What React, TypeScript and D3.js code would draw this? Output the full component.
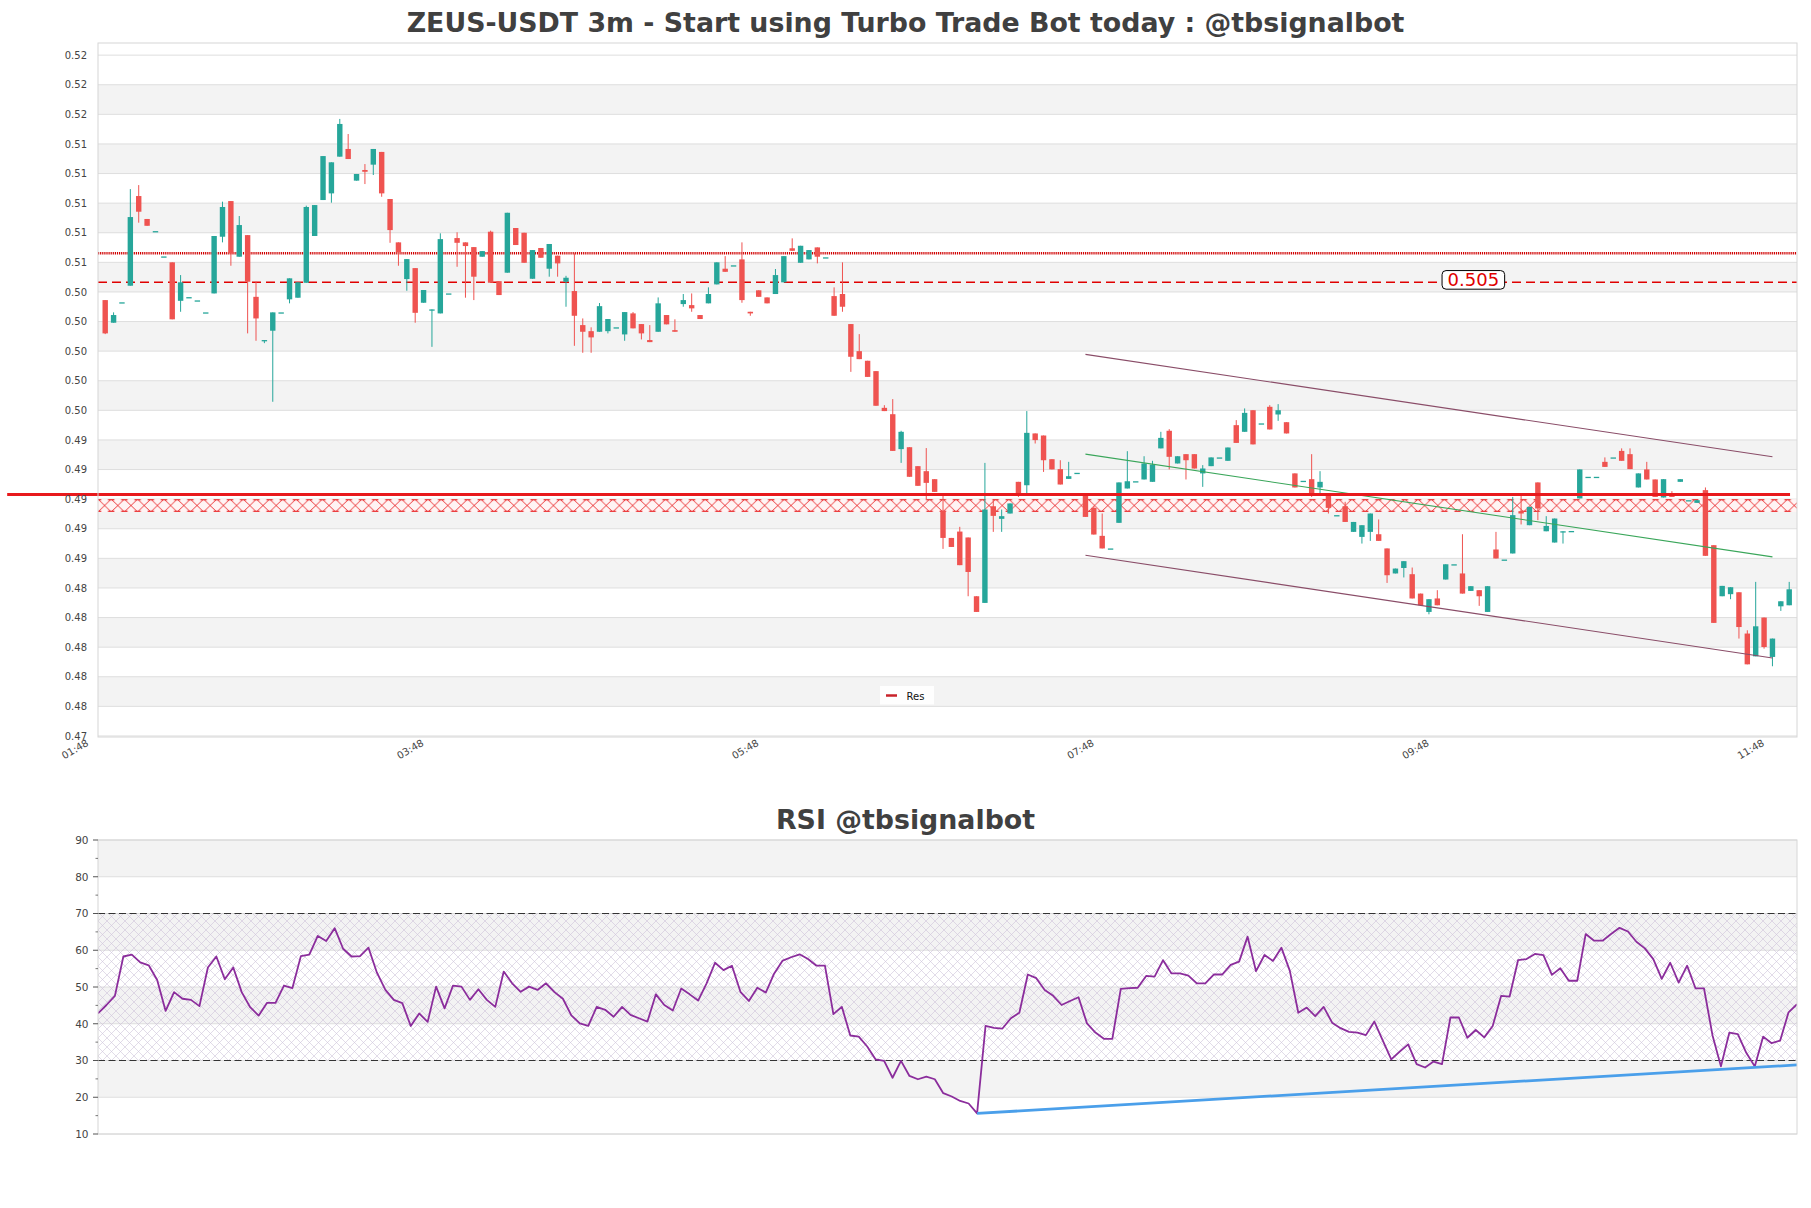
import React from 'react';
import * as d3 from 'd3';

// ---------------- DATA ----------------
const TITLE = 'ZEUS-USDT 3m - Start using Turbo Trade Bot today : @tbsignalbot';
const RSI_TITLE = 'RSI @tbsignalbot';

const opens = [
0.50379,0.50226,0.50364,0.50476,0.51082,0.50927,0.50845,0.50674,0.50634,0.50374,
0.50399,0.50377,0.50296,0.50424,0.50807,0.51048,0.50672,0.50818,0.50401,0.50109,
0.50172,0.50296,0.50384,0.50395,0.50496,0.50812,0.51055,0.51100,0.51348,0.51400,
0.51186,0.51258,0.51294,0.51380,0.51062,0.50769,0.50521,0.50595,0.50361,0.50316,
0.50289,0.50424,0.50798,0.50769,0.50737,0.50672,0.50841,0.50507,0.50564,0.50866,
0.50834,0.50523,0.50731,0.50591,0.50679,0.50503,0.50440,0.50210,0.50169,0.50165,
0.50169,0.50195,0.50147,0.50289,0.50217,0.50109,0.50165,0.50278,0.50176,0.50352,
0.50345,0.50278,0.50357,0.50485,0.50591,0.50614,0.50654,0.50300,0.50445,0.50397,
0.50420,0.50499,0.50729,0.50631,0.50654,0.50735,0.50668,0.50406,0.50420,0.50217,
0.50034,0.49969,0.49899,0.49651,0.49608,0.49372,0.49385,0.49257,0.49223,0.49169,
0.48955,0.48772,0.48815,0.48775,0.48378,0.48333,0.48986,0.48901,0.48937,0.49151,
0.49128,0.49478,0.49464,0.49304,0.49237,0.49171,0.49212,0.49061,0.48975,0.48786,
0.48701,0.48874,0.49106,0.49155,0.49167,0.49151,0.49377,0.49496,0.49275,0.49338,
0.49338,0.49208,0.49257,0.49316,0.49293,0.49534,0.49489,0.49635,0.49546,0.49658,
0.49606,0.49554,0.49208,0.49158,0.49169,0.49113,0.49072,0.48926,0.48986,0.48813,
0.48779,0.48813,0.48797,0.48701,0.48532,0.48569,0.48527,0.48396,0.48272,0.48363,
0.48491,0.48594,0.48532,0.48414,0.48419,0.48272,0.48694,0.48626,0.48667,0.48953,
0.48858,0.49147,0.48817,0.48741,0.48817,0.48819,0.49039,0.49185,0.49185,0.49286,
0.49316,0.49360,0.49338,0.49113,0.49235,0.49167,0.49045,0.49072,0.49151,0.49027,
0.49009,0.49095,0.48723,0.48378,0.48392,0.48405,0.48126,0.47972,0.48234,0.47968,
0.48310,0.48317];

const highs = [
0.50379,0.50296,0.50364,0.51129,0.51156,0.50927,0.50845,0.50674,0.50634,0.50548,
0.50399,0.50377,0.50296,0.50812,0.51044,0.51048,0.50947,0.50818,0.50503,0.50109,
0.50296,0.50296,0.50526,0.50499,0.51017,0.51021,0.51352,0.51310,0.51603,0.51501,
0.51231,0.51298,0.51400,0.51380,0.51062,0.50769,0.50656,0.50595,0.50447,0.50316,
0.50830,0.50424,0.50837,0.50769,0.50737,0.50710,0.50848,0.50507,0.50969,0.50866,
0.50834,0.50717,0.50731,0.50758,0.50679,0.50543,0.50695,0.50255,0.50195,0.50359,
0.50251,0.50195,0.50298,0.50298,0.50217,0.50210,0.50397,0.50278,0.50249,0.50420,
0.50424,0.50278,0.50465,0.50634,0.50676,0.50614,0.50769,0.50300,0.50445,0.50397,
0.50589,0.50676,0.50796,0.50746,0.50717,0.50735,0.50668,0.50465,0.50634,0.50217,
0.50149,0.49969,0.49899,0.49669,0.49710,0.49496,0.49385,0.49257,0.49379,0.49169,
0.49059,0.48772,0.48847,0.48775,0.48378,0.49279,0.49027,0.48964,0.49005,0.49151,
0.49629,0.49478,0.49464,0.49304,0.49297,0.49286,0.49212,0.49061,0.48986,0.48937,
0.48701,0.49147,0.49358,0.49155,0.49324,0.49293,0.49489,0.49507,0.49324,0.49338,
0.49338,0.49264,0.49316,0.49316,0.49383,0.49568,0.49647,0.49635,0.49546,0.49669,
0.49676,0.49554,0.49208,0.49158,0.49338,0.49223,0.49072,0.48926,0.49016,0.48880,
0.48858,0.48937,0.48897,0.48701,0.48565,0.48615,0.48572,0.48396,0.48358,0.48419,
0.48594,0.48594,0.48797,0.48446,0.48419,0.48446,0.48813,0.48626,0.49049,0.49061,
0.48982,0.49147,0.48919,0.48903,0.48817,0.48819,0.49235,0.49185,0.49185,0.49316,
0.49316,0.49377,0.49377,0.49208,0.49286,0.49167,0.49169,0.49088,0.49169,0.49027,
0.49027,0.49113,0.48723,0.48448,0.48439,0.48405,0.48148,0.48475,0.48234,0.48092,
0.48344,0.48475];

const lows = [
0.50149,0.50226,0.50364,0.50476,0.50902,0.50881,0.50845,0.50674,0.50249,0.50300,
0.50399,0.50377,0.50296,0.50424,0.50769,0.50611,0.50672,0.50154,0.50104,0.50088,
0.49692,0.50296,0.50357,0.50395,0.50496,0.50812,0.51055,0.51037,0.51348,0.51332,
0.51186,0.51163,0.51224,0.51077,0.50766,0.50611,0.50442,0.50226,0.50361,0.50063,
0.50289,0.50424,0.50604,0.50395,0.50379,0.50672,0.50496,0.50413,0.50564,0.50751,
0.50631,0.50523,0.50665,0.50537,0.50537,0.50334,0.50070,0.50023,0.50023,0.50165,
0.50154,0.50195,0.50104,0.50188,0.50113,0.50095,0.50165,0.50215,0.50165,0.50334,
0.50300,0.50251,0.50357,0.50485,0.50570,0.50614,0.50361,0.50273,0.50401,0.50357,
0.50420,0.50499,0.50712,0.50631,0.50654,0.50627,0.50668,0.50273,0.50300,0.49894,
0.49980,0.49860,0.49665,0.49629,0.49360,0.49279,0.49185,0.49124,0.49027,0.49083,
0.48698,0.48711,0.48588,0.48378,0.48272,0.48333,0.48813,0.48813,0.48937,0.49049,
0.49066,0.49410,0.49218,0.49235,0.49133,0.49171,0.49212,0.48914,0.48795,0.48701,
0.48701,0.48874,0.49106,0.49155,0.49167,0.49151,0.49377,0.49235,0.49275,0.49167,
0.49241,0.49117,0.49257,0.49316,0.49293,0.49414,0.49489,0.49404,0.49546,0.49505,
0.49563,0.49478,0.49113,0.49158,0.49049,0.49061,0.48937,0.48926,0.48880,0.48813,
0.48734,0.48752,0.48752,0.48468,0.48532,0.48505,0.48363,0.48317,0.48256,0.48317,
0.48491,0.48594,0.48396,0.48414,0.48313,0.48272,0.48633,0.48626,0.48667,0.48863,
0.48858,0.48892,0.48817,0.48741,0.48734,0.48819,0.49039,0.49185,0.49185,0.49252,
0.49316,0.49293,0.49237,0.49113,0.49167,0.49049,0.49045,0.49049,0.49151,0.49027,
0.49009,0.48651,0.48198,0.48378,0.48358,0.48092,0.47918,0.47972,0.48024,0.47905,
0.48279,0.48317];

const closes = [
0.50154,0.50278,0.50364,0.50940,0.50976,0.50881,0.50845,0.50674,0.50249,0.50499,
0.50399,0.50377,0.50296,0.50812,0.51008,0.50695,0.50886,0.50503,0.50255,0.50109,
0.50296,0.50296,0.50526,0.50499,0.51008,0.51021,0.51352,0.51310,0.51569,0.51332,
0.51231,0.51246,0.51400,0.51100,0.50852,0.50702,0.50656,0.50293,0.50447,0.50316,
0.50791,0.50424,0.50766,0.50744,0.50537,0.50710,0.50496,0.50413,0.50969,0.50751,
0.50631,0.50717,0.50665,0.50758,0.50627,0.50530,0.50273,0.50165,0.50127,0.50338,
0.50251,0.50195,0.50298,0.50188,0.50154,0.50095,0.50357,0.50215,0.50165,0.50379,
0.50323,0.50251,0.50420,0.50634,0.50570,0.50614,0.50379,0.50289,0.50401,0.50357,
0.50548,0.50676,0.50712,0.50746,0.50717,0.50672,0.50668,0.50273,0.50334,0.49996,
0.49980,0.49860,0.49665,0.49629,0.49360,0.49489,0.49185,0.49124,0.49144,0.49083,
0.48772,0.48711,0.48588,0.48542,0.48272,0.48964,0.48921,0.48919,0.49005,0.49061,
0.49482,0.49433,0.49297,0.49235,0.49133,0.49189,0.49212,0.48914,0.48795,0.48701,
0.48701,0.49147,0.49155,0.49155,0.49275,0.49268,0.49448,0.49320,0.49324,0.49297,
0.49241,0.49241,0.49316,0.49316,0.49383,0.49414,0.49617,0.49404,0.49546,0.49505,
0.49635,0.49478,0.49113,0.49158,0.49061,0.49151,0.48975,0.48926,0.48880,0.48880,
0.48858,0.48937,0.48752,0.48520,0.48565,0.48615,0.48363,0.48317,0.48358,0.48317,
0.48594,0.48594,0.48396,0.48446,0.48378,0.48446,0.48633,0.48626,0.48926,0.48937,
0.48982,0.48971,0.48853,0.48903,0.48817,0.48819,0.49235,0.49185,0.49185,0.49252,
0.49316,0.49293,0.49237,0.49208,0.49167,0.49049,0.49169,0.49049,0.49169,0.49027,
0.49027,0.48651,0.48198,0.48448,0.48439,0.48170,0.47918,0.48175,0.48035,0.48092,
0.48344,0.48425];

const rsiValues = [
42.8,45.1,47.6,58.3,58.8,56.7,55.9,51.9,43.5,48.6,
46.8,46.5,44.8,55.3,58.3,52.1,55.3,48.6,44.5,42.2,
45.7,45.7,50.4,49.7,58.4,58.8,63.9,62.5,66.0,60.4,
58.3,58.4,60.7,53.9,49.2,46.5,45.6,39.4,42.8,40.5,
50.1,44.2,50.4,50.1,46.5,49.4,46.5,44.6,54.2,51.0,
48.7,50.1,49.2,51.0,48.6,46.8,42.3,40.1,39.4,44.6,
43.8,41.9,44.6,42.4,41.5,40.6,48.0,45.1,43.6,49.6,
48.0,46.3,51.0,56.6,54.6,55.8,48.7,46.2,49.8,48.5,
53.7,57.2,58.1,58.9,57.6,55.8,55.8,42.6,44.6,36.8,
36.5,33.8,30.3,29.9,25.3,29.9,25.8,24.9,25.6,24.9,
21.1,20.2,19.0,18.3,15.6,39.4,38.9,38.7,41.5,43.0,
53.4,52.4,49.2,47.6,45.1,46.2,47.2,40.1,37.6,35.9,
35.9,49.5,49.7,49.8,53.0,52.8,57.3,53.7,53.7,53.1,
51.0,51.0,53.4,53.4,56.0,56.9,63.7,54.3,58.7,57.1,
60.7,54.4,43.0,44.4,42.1,44.6,40.3,38.8,37.8,37.6,
36.9,40.6,35.4,30.3,32.4,34.4,29.0,28.1,29.7,29.0,
41.7,41.7,36.2,38.3,36.3,39.4,47.6,47.4,57.3,57.6,
59.0,58.7,53.3,55.1,51.7,51.7,64.4,62.6,62.6,64.4,
66.1,65.1,62.3,60.5,57.6,52.2,56.6,51.2,55.8,49.6,
49.6,36.9,28.4,37.6,37.2,32.1,28.4,36.5,34.7,35.4,
43.1,45.3];

// y ticks (price) and labels
const priceTickStart = 0.47434;
const priceTickStep = 0.002;
const priceTickCount = 24;
const priceDomain = [0.47427, 0.52116];

// x ticks: candle index and label
const xTickIndex = [-1, 39, 79, 119, 159, 199];
const xTickLabels = ['01:48', '03:48', '05:48', '07:48', '09:48', '11:48'];

// levels
const resLevel = 0.49066;
const resLineFrom = -11.7;
const resLineTo = 201.1;
const zoneTop = 0.49034;
const zoneBottom = 0.48948;
const dottedLevel = 0.50695;
const dashedLevel = 0.505;
const dashedLabel = '0.505';
const dashedLabelIndex = 163.3;

// channel lines [i0, p0, i1, p1]
const channelUpper = [117, 0.50012, 199, 0.4932];
const channelMid = [117, 0.49338, 199, 0.48644];
const channelLower = [117, 0.48655, 199, 0.47961];

// RSI
const rsiTicks = [10, 20, 30, 40, 50, 60, 70, 80, 90];
const rsiMinorTicks = [15, 25, 35, 45, 55, 65, 75, 85];
const rsiBandStarts = [20, 40, 60, 80];
const rsiUpper = 70;
const rsiLower = 30;
const rsiTrend = [104, 15.6, 201, 28.8];

// ---------------- COMPONENT ----------------
const FONT = 'DejaVu Sans, Verdana, sans-serif';
const TEAL = '#26a69a';
const RED = '#ef5350';

export default function App() {
  const L = 98, R = 1797, T = 43, B = 737;
  const RT = 840, RB = 1134;

  const x = d3.scaleLinear().domain([-0.86, 201.93]).range([L, R]);
  const y = d3.scaleLinear().domain(priceDomain).range([B, T]);
  const xr = d3.scaleLinear().domain([0, rsiValues.length - 1]).range([L, R]);
  const yr = d3.scaleLinear().domain([10, 90]).range([RB, RT]);

  const priceTicks = d3.range(priceTickCount).map(i => priceTickStart + i * priceTickStep);
  const fmt = d3.format('.2f');

  const rsiLine = d3.line<number>().x((d, i) => xr(i)).y(d => yr(d))(rsiValues) || '';

  const zoneY0 = y(zoneTop);
  const zoneY1 = y(zoneBottom);
  const zoneH = zoneY1 - zoneY0;
  const cellW = 13.2;

  const bodyW = 5.4;

  const chLine = (c: number[]) => (
    { x1: x(c[0]), y1: y(c[1]), x2: x(c[2]), y2: y(c[3]) }
  );

  const badgeX = x(dashedLabelIndex);
  const badgeY = y(dashedLevel);

  return (
    <svg width={1811} height={1208} style={{ position: 'absolute', left: 0, top: 0, background: '#fff' }}
      fontFamily={FONT}>
      <defs>
        <pattern id="zoneHatch" patternUnits="userSpaceOnUse" x={L} y={zoneY0} width={cellW} height={zoneH}>
          <path d={`M0,0L${cellW},${zoneH}M${cellW},0L0,${zoneH}`} stroke="#e8282a" strokeWidth={0.9} fill="none" />
          <path d={`M0,0.6H3.2M${cellW - 3.2},0.6H${cellW}M0,${zoneH - 0.6}H3.2M${cellW - 3.2},${zoneH - 0.6}H${cellW}`}
            stroke="#e8282a" strokeWidth={1.1} fill="none" />
        </pattern>
        <pattern id="rsiHatch" patternUnits="userSpaceOnUse" x={L} y={RT} width={9} height={9}>
          <path d="M0,0L9,9M9,0L0,9" stroke="#c9bdd6" strokeWidth={0.6} fill="none" />
        </pattern>
        <clipPath id="mainClip"><rect x={L} y={T} width={R - L} height={B - T} /></clipPath>
        <clipPath id="rsiClip"><rect x={L} y={RT} width={R - L} height={RB - RT} /></clipPath>
      </defs>

      <rect x={0} y={0} width={1811} height={1208} fill="#fff" />

      {/* ---------- MAIN TITLE ---------- */}
      <text x={905.5} y={32} textAnchor="middle" fontSize={26.8} fontWeight="bold" fill="#404040">{TITLE}</text>

      {/* ---------- MAIN PLOT BACKGROUND ---------- */}
      <g>
        {priceTicks.slice(0, -1).map((t, i) => i % 2 === 1 ? (
          <rect key={'b' + i} x={L} y={y(priceTicks[i + 1])} width={R - L} height={y(t) - y(priceTicks[i + 1])} fill="#f3f3f3" />
        ) : null)}
        {priceTicks.map((t, i) => (
          <line key={'g' + i} x1={L} x2={R} y1={y(t)} y2={y(t)} stroke="#dedede" strokeWidth={1} />
        ))}
      </g>

      {/* zone */}
      <rect x={L} y={zoneY0} width={R - L} height={zoneH} fill="#fff4f4" />
      <rect x={L} y={zoneY0} width={R - L} height={zoneH} fill="url(#zoneHatch)" />

      {/* dotted & dashed levels */}
      <line x1={L} x2={R} y1={y(dottedLevel)} y2={y(dottedLevel)} stroke="#d00000" strokeWidth={2.6} strokeDasharray="1.2 0.9" />
      <line x1={L} x2={R} y1={y(dashedLevel)} y2={y(dashedLevel)} stroke="#e00000" strokeWidth={1.4} strokeDasharray="9 5" />

      {/* candles */}
      <g clipPath="url(#mainClip)">
        {opens.map((o, i) => {
          const c = closes[i];
          const hi = Math.max(highs[i], o, c);
          const lo = Math.min(lows[i], o, c);
          const col = c >= o ? TEAL : RED;
          const cx = x(i);
          const yTop = y(Math.max(o, c));
          const h = Math.max(1.3, y(Math.min(o, c)) - yTop);
          return (
            <g key={'c' + i}>
              <line x1={cx} x2={cx} y1={y(hi)} y2={y(lo)} stroke={col} strokeWidth={1} />
              <rect x={cx - bodyW / 2} y={yTop} width={bodyW} height={h} fill={col} />
            </g>
          );
        })}
      </g>

      {/* channel lines */}
      <line {...chLine(channelUpper)} stroke="#8a4d68" strokeWidth={1.1} />
      <line {...chLine(channelLower)} stroke="#8a4d68" strokeWidth={1.1} />
      <line {...chLine(channelMid)} stroke="#3aa65a" strokeWidth={1.1} />

      {/* Res line */}
      <line x1={x(resLineFrom)} x2={x(resLineTo)} y1={y(resLevel)} y2={y(resLevel)} stroke="#e8191c" strokeWidth={3} />

      {/* badge */}
      <g>
        <rect x={badgeX - 31.3} y={badgeY - 11.6} width={62.6} height={18.6} rx={4} ry={4} fill="#fff" stroke="#000" strokeWidth={1} />
        <text x={badgeX} y={badgeY + 3.7} textAnchor="middle" fontSize={18} fill="#e00000">{dashedLabel}</text>
      </g>

      {/* legend */}
      <g>
        <rect x={880} y={686} width={54} height={18.5} fill="#fff" opacity={0.9} />
        <line x1={886} x2={897} y1={695.5} y2={695.5} stroke="#c8222a" strokeWidth={2.5} />
        <text x={906.5} y={699.5} fontSize={10} fill="#111">Res</text>
      </g>

      {/* frame */}
      <rect x={L} y={T} width={R - L} height={B - T} fill="none" stroke="#d6d6d6" strokeWidth={1} />

      {/* y axis labels */}
      {priceTicks.map((t, i) => (
        <text key={'yl' + i} x={87} y={y(t) + 3.6} textAnchor="end" fontSize={10} fill="#444">{fmt(t)}</text>
      ))}

      {/* x axis labels */}
      {xTickIndex.map((xi, k) => (
        <text key={'xl' + k} transform={`translate(${x(xi) - 7.5},${745}) rotate(-30)`} textAnchor="end" fontSize={10} fill="#444">
          {xTickLabels[k]}
        </text>
      ))}

      {/* ---------- RSI ---------- */}
      <text x={905.5} y={829} textAnchor="middle" fontSize={26.8} fontWeight="bold" fill="#404040">{RSI_TITLE}</text>

      {rsiBandStarts.map(t => (
        <rect key={'rb' + t} x={L} y={yr(t + 10)} width={R - L} height={yr(t) - yr(t + 10)} fill="#f3f3f3" />
      ))}
      {rsiTicks.map(t => (
        <line key={'rg' + t} x1={L} x2={R} y1={yr(t)} y2={yr(t)} stroke="#dedede" strokeWidth={1} />
      ))}
      <rect x={L} y={yr(rsiUpper)} width={R - L} height={yr(rsiLower) - yr(rsiUpper)} fill="url(#rsiHatch)" opacity={0.9} />
      <line x1={L} x2={R} y1={yr(rsiUpper)} y2={yr(rsiUpper)} stroke="#333" strokeWidth={1.2} strokeDasharray="7 3.5" />
      <line x1={L} x2={R} y1={yr(rsiLower)} y2={yr(rsiLower)} stroke="#333" strokeWidth={1.2} strokeDasharray="7 3.5" />

      <g clipPath="url(#rsiClip)">
        <path d={rsiLine} fill="none" stroke="#8b2d9c" strokeWidth={1.8} strokeLinejoin="round" />
        <line x1={xr(rsiTrend[0])} y1={yr(rsiTrend[1])} x2={xr(rsiTrend[2])} y2={yr(rsiTrend[3])} stroke="#4a9fea" strokeWidth={2.8} />
      </g>

      <rect x={L} y={RT} width={R - L} height={RB - RT} fill="none" stroke="#d6d6d6" strokeWidth={1} />

      {rsiTicks.map(t => (
        <g key={'rt' + t}>
          <line x1={L - 5} x2={L} y1={yr(t)} y2={yr(t)} stroke="#555" strokeWidth={1} />
          <text x={88.5} y={yr(t) + 3.8} textAnchor="end" fontSize={10.5} fill="#444">{t}</text>
        </g>
      ))}
      {rsiMinorTicks.map(t => (
        <line key={'rm' + t} x1={L - 2.5} x2={L} y1={yr(t)} y2={yr(t)} stroke="#555" strokeWidth={0.8} />
      ))}
    </svg>
  );
}
